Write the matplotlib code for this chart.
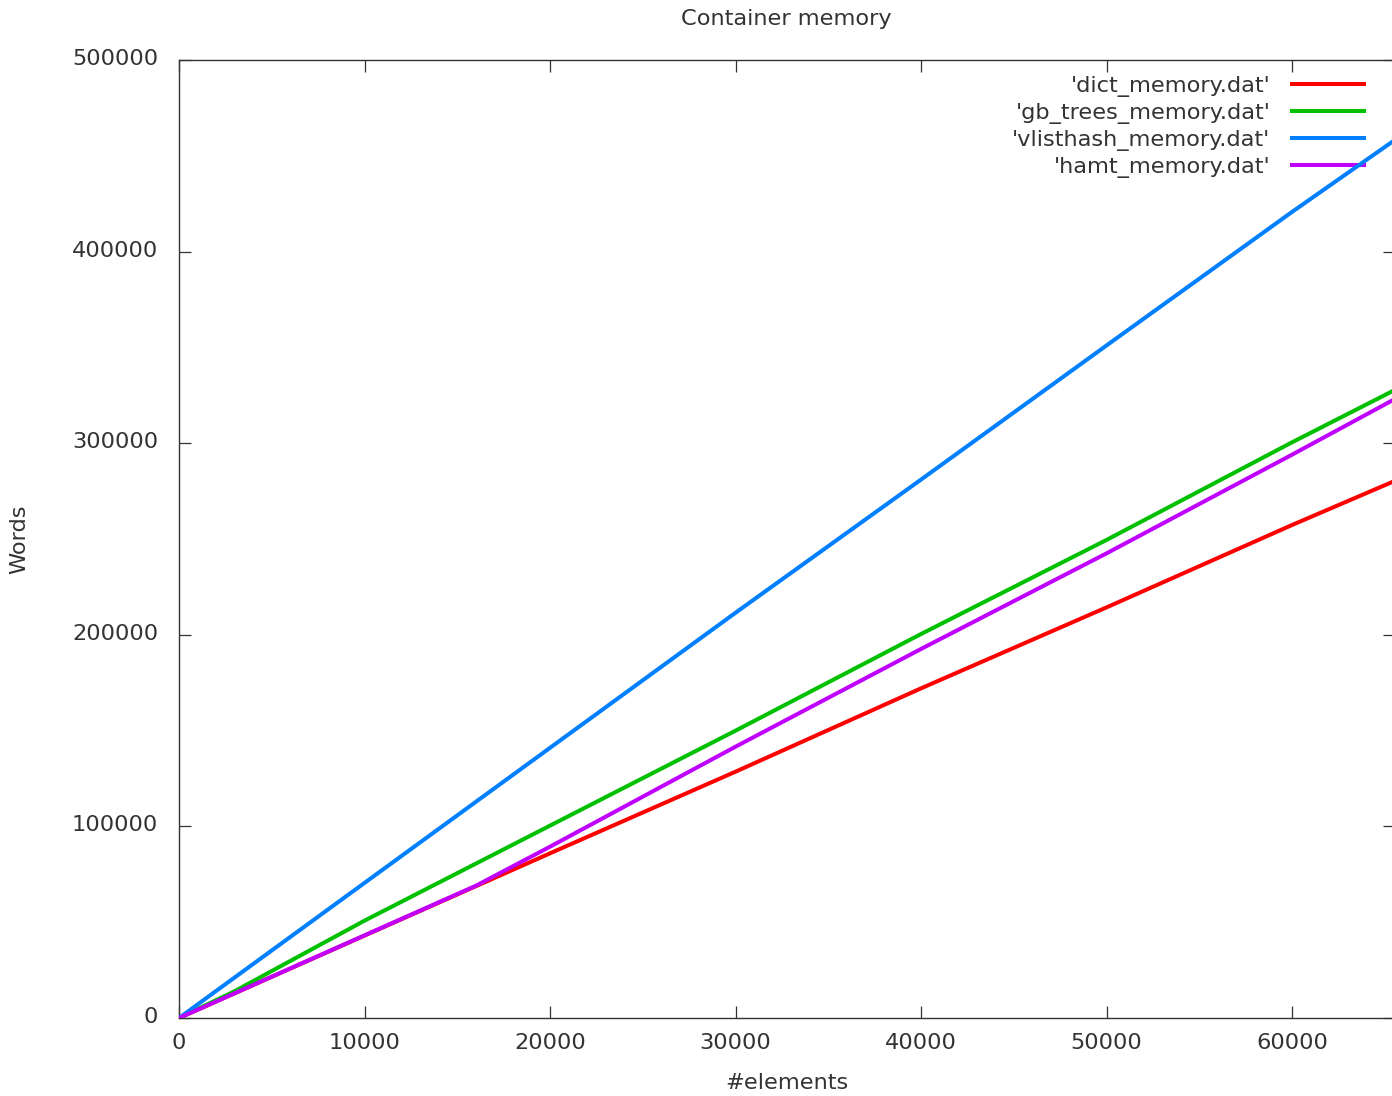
import matplotlib
matplotlib.use('Agg')
import matplotlib.pyplot as plt
import matplotlib.transforms as mtransforms

# Valores (#elements -> Words)
x_dict = [0, 10000, 20000, 30000, 40000, 50000, 60000, 65536]
y_dict = [0, 43000, 85950, 128550, 172050, 214300, 257300, 280300]

x_gb = [0, 3000, 10000, 20000, 30000, 40000, 50000, 60000, 65536]
y_gb = [0, 14000, 50800, 100400, 149950, 200400, 249500, 300450, 327750]

x_vlist = [0, 10000, 20000, 30000, 40000, 50000, 60000, 65536]
y_vlist = [0, 70500, 141000, 211500, 281000, 351000, 420700, 458200]

x_hamt = [0, 8000, 16000, 20000, 25000, 30000, 40000, 50000, 60000, 65536]
y_hamt = [0, 34500, 69000, 89400, 115500, 141600, 192600, 242500, 294000, 323000]

series = [
    ("'dict_memory.dat'", x_dict, y_dict, '#ff0000'),
    ("'gb_trees_memory.dat'", x_gb, y_gb, '#00c000'),
    ("'vlisthash_memory.dat'", x_vlist, y_vlist, '#0080ff'),
    ("'hamt_memory.dat'", x_hamt, y_hamt, '#c000ff'),
]

W, H = 1392, 1096
txt = '#333333'
fs = 16.2

fig = plt.figure(figsize=(W / 100, H / 100), dpi=100)
ax = fig.add_axes([179 / W, 1 - 1018 / H, (1394.7 - 179) / W, (1018 - 60) / H])

for nome, xs, ys, cor in series:
    ax.plot(xs, ys, color=cor, lw=2.9, label=nome, zorder=3, solid_capstyle='butt')

ax.set_xlim(0, 65536)
ax.set_ylim(0, 500000)
ax.set_xticks(range(0, 60001, 10000))
ax.set_yticks(range(0, 500001, 100000))
ax.tick_params(direction='in', length=8.6, width=0.9, color='#333333',
               top=True, right=True, labelsize=fs, labelcolor=txt)
ax.tick_params(axis='x', pad=11)
ax.tick_params(axis='y', pad=15)
for s in ax.spines.values():
    s.set_color('#333333')
    s.set_linewidth(1.0)

# rótulos do eixo y um pouco acima, como no gnuplot
desloc = mtransforms.ScaledTranslation(0, 3 / 100, fig.dpi_scale_trans)
for lab in ax.get_yticklabels():
    lab.set_transform(lab.get_transform() + desloc)

ax.set_title('Container memory', fontsize=fs, color=txt, pad=25.5)
ax.set_xlabel('#elements', fontsize=fs, color=txt, labelpad=14)
ax.set_ylabel('Words', fontsize=fs, color=txt, labelpad=31)

leg = ax.legend(loc='upper right', bbox_to_anchor=(1366 / W, 1 - 76 / H),
                bbox_transform=fig.transFigure, frameon=False, markerfirst=False,
                handlelength=3.4, handletextpad=0.85, labelspacing=0.26,
                borderpad=0, borderaxespad=0, fontsize=fs)
for t in leg.get_texts():
    t.set_color(txt)
leg.set_zorder(1)

fig.savefig('out.png', dpi=100)
